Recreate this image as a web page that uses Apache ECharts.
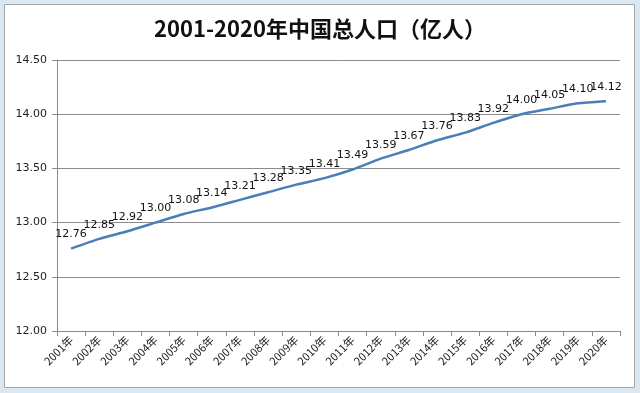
<!DOCTYPE html>
<html><head><meta charset="utf-8">
<script src="https://cdn.jsdelivr.net/npm/echarts@6/dist/echarts.min.js"></script>
<style>html,body{margin:0;padding:0;background:#dbe8f1;}#c{width:640px;height:393px;}</style>
</head><body><div id="c"></div>
<script>
var categories = ["2001年","2002年","2003年","2004年","2005年","2006年","2007年","2008年","2009年","2010年","2011年","2012年","2013年","2014年","2015年","2016年","2017年","2018年","2019年","2020年"];
var population = [12.76,12.85,12.92,13.00,13.08,13.14,13.21,13.28,13.35,13.41,13.49,13.59,13.67,13.76,13.83,13.92,14.00,14.05,14.10,14.12];
var titleText = "2001-2020年中国总人口（亿人）";

var chart = echarts.init(document.getElementById('c'), null, {renderer:'canvas'});
chart.setOption({
  backgroundColor: '#dbe8f1',
  animation: false,
  graphic: [{type:'rect', shape:{x:4.5,y:4.5,width:630,height:383}, style:{fill:'#ffffff', stroke:'#a6a6a6', lineWidth:1}, z:-1}],
  title: {text: titleText, left:'center', top:13, textStyle:{fontSize:22, fontWeight:'bold', color:'#111', fontFamily:'Noto Sans CJK SC'}},
  grid: {left:57, right:20, top:60, bottom:62},
  xAxis: {type:'category', data:categories, boundaryGap:true,
    axisLine:{lineStyle:{color:'#8c8c8c'}},
    axisTick:{show:true, alignWithLabel:false, length:5, lineStyle:{color:'#8c8c8c'}},
    axisLabel:{rotate:45, fontSize:11, color:'#222', margin:7, fontFamily:'Noto Sans CJK SC', interval:0}},
  yAxis: {type:'value', min:12, max:14.5, interval:0.5,
    axisLine:{show:true, lineStyle:{color:'#8c8c8c'}},
    axisTick:{show:true, length:5, lineStyle:{color:'#8c8c8c'}},
    splitLine:{lineStyle:{color:'#8c8c8c'}},
    axisLabel:{formatter:function(v){return v.toFixed(2);}, fontSize:11, color:'#222', margin:10, fontFamily:'DejaVu Sans'}},
  series: [{type:'line', data:population, smooth:0.2, symbol:'circle', symbolSize:1, showSymbol:true,
    itemStyle:{color:'rgba(74,126,187,0)'},
    lineStyle:{color:'#4a7ebb', width:2.5},
    labelLayout:{hideOverlap:false},
    label:{show:true, position:'top', distance:8, fontSize:11, color:'#111', fontFamily:'DejaVu Sans', formatter:function(p){return p.value.toFixed(2);}}}]
});
</script></body></html>
